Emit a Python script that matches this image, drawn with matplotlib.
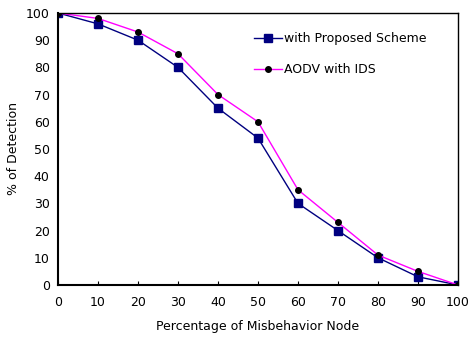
import matplotlib
matplotlib.use('Agg')
import matplotlib.pyplot as plt

# Percentage of misbehavior node
misbehavior = [0, 10, 20, 30, 40, 50, 60, 70, 80, 90, 100]
# % of detection
proposed = [100, 96, 90, 80, 65, 54, 30, 20, 10, 3, 0]
aodv_ids = [100, 98, 93, 85, 70, 60, 35, 23, 11, 5, 0]

plt.rcParams['font.family'] = 'DejaVu Sans'
plt.rcParams['font.size'] = 9

fig = plt.figure(figsize=(4.69, 3.40), dpi=100)
ax = fig.add_axes([0.1237, 0.1618, 0.8528, 0.8])

ax.plot(misbehavior, proposed, color='#000080', linewidth=1, marker='s',
        markersize=6, markerfacecolor='#000080', markeredgecolor='#000080',
        label='with Proposed Scheme')
ax.plot(misbehavior, aodv_ids, color='#FF00FF', linewidth=1, marker='o',
        markersize=4, markerfacecolor='black', markeredgecolor='black',
        label='AODV with IDS')

ax.set_xlim(0, 100)
ax.set_ylim(0, 100)
ax.set_xticks(range(0, 101, 10))
ax.set_yticks(range(0, 101, 10))
ax.tick_params(direction='in', length=3, color='black', labelsize=9, pad=8)
ax.tick_params(axis='y', length=0, pad=6)
for s in ax.spines.values():
    s.set_color('black')
    s.set_linewidth(1)
ax.spines['left'].set_linewidth(1.5)
ax.spines['bottom'].set_linewidth(1.5)

ax.set_xlabel('Percentage of Misbehavior Node', fontsize=9, labelpad=8)
ax.set_ylabel('% of Detection', fontsize=9, labelpad=4)

ax.legend(loc='upper right', bbox_to_anchor=(0.95, 0.97), frameon=False,
          fontsize=9, handlelength=2.2, handletextpad=0.2, labelspacing=1.4)

fig.savefig('out.png', dpi=100)
